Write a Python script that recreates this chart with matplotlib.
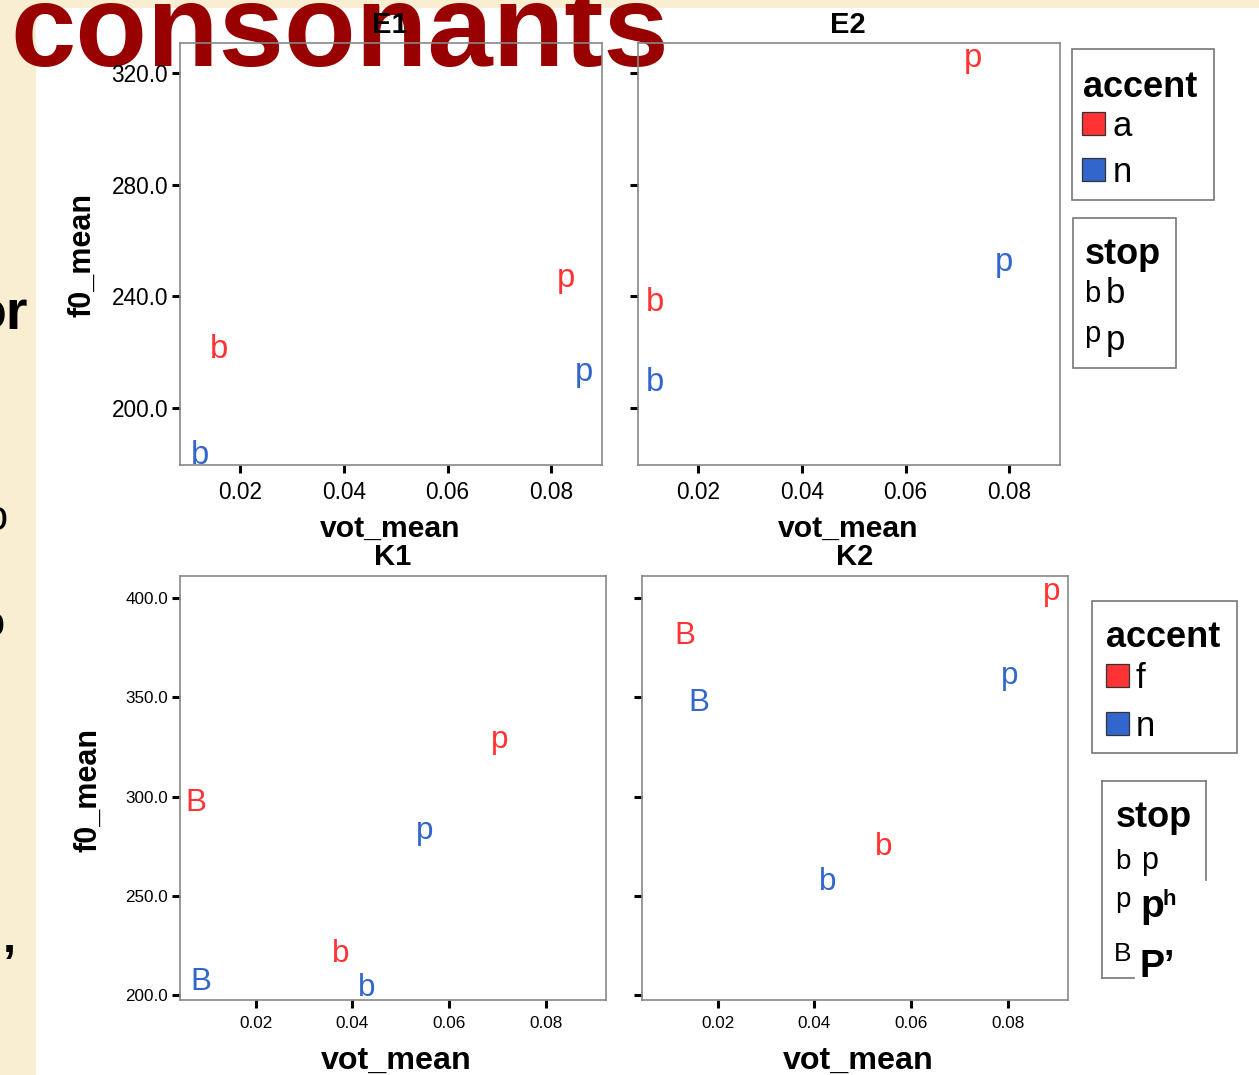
import matplotlib
matplotlib.use("Agg")
import matplotlib.pyplot as plt
from matplotlib.patches import Rectangle
from matplotlib.lines import Line2D

W, H, DPI = 1259, 1075, 100
plt.rcParams["font.family"] = ["Liberation Sans", "DejaVu Sans"]

RED = "#FF3333"
BLUE = "#3366CC"

# ---- data -------------------------------------------------------------
e1_stop = ["b", "b", "p", "p"]
e1_accent = ["a", "n", "a", "n"]
e1_vot = [0.0160, 0.0123, 0.0829, 0.0864]
e1_f0 = [221.0, 183.1, 246.5, 212.8]

e2_stop = ["b", "b", "p", "p"]
e2_accent = ["a", "n", "a", "n"]
e2_vot = [0.0117, 0.0116, 0.0731, 0.0790]
e2_f0 = [237.8, 209.2, 325.0, 252.2]

k1_stop = ["B", "B", "b", "b", "p", "p"]
k1_accent = ["f", "n", "f", "n", "f", "n"]
k1_vot = [0.0076, 0.0086, 0.0376, 0.0430, 0.0705, 0.0549]
k1_f0 = [296.5, 206.6, 220.7, 203.5, 328.3, 282.4]

k2_stop = ["B", "B", "b", "b", "p", "p"]
k2_accent = ["f", "n", "f", "n", "f", "n"]
k2_vot = [0.0132, 0.0161, 0.0543, 0.0427, 0.0891, 0.0804]
k2_f0 = [380.7, 347.0, 274.8, 257.1, 403.0, 360.6]

x_ticks = [0.02, 0.04, 0.06, 0.08]
e_y_ticks = [200, 240, 280, 320]
k_y_ticks = [200, 250, 300, 350, 400]

e_colors = {"a": RED, "n": BLUE}
k_colors = {"f": RED, "n": BLUE}

# ---- figure ---------------------------------------------------------------
fig = plt.figure(figsize=(W / DPI, H / DPI), dpi=DPI, facecolor="#F9EDD2")


def fx(x):
    return x / W


def fy(y):
    return 1 - y / H


# white content area of the slide
fig.patches.append(Rectangle((fx(36), 0), 1 - fx(36), fy(8),
                             transform=fig.transFigure, facecolor="white",
                             edgecolor="none", zorder=-3))

# slide heading, drawn beneath the plots
fig.text(fx(10), fy(66), "consonants", fontsize=84.5, fontweight="bold",
         color="#990000", ha="left", va="baseline", zorder=-1)

# clipped body text at the left edge of the slide
fig.text(fx(28), fy(330), "or", fontsize=40, color="black", fontweight="bold",
         ha="right", va="baseline", zorder=-1)
fig.text(fx(7), fy(530), "o", fontsize=30, color="black",
         ha="right", va="baseline", zorder=-1)
fig.text(fx(4), fy(636), "o", fontsize=30, color="black",
         ha="right", va="baseline", zorder=-1)
fig.text(fx(3), fy(952), ",", fontsize=34, color="black", fontweight="bold",
         ha="left", va="baseline", zorder=-1)


def panel(box, vot, f0, stop, accent, colors, xlim, ylim, yticks,
          tick_fs, text_fs, show_ylabels):
    l, t, r, b = box
    ax = fig.add_axes([fx(l), fy(b), (r - l) / W, (b - t) / H])
    ax.set_facecolor("none")
    ax.set_xlim(xlim)
    ax.set_ylim(ylim)
    for x, y, s, a in zip(vot, f0, stop, accent):
        ax.text(x, y, s, color=colors[a], fontsize=text_fs,
                ha="center", va="center")
    ax.set_xticks(x_ticks)
    ax.set_xticklabels([f"{v:.2f}" for v in x_ticks])
    ax.set_yticks(yticks)
    ax.set_yticklabels([f"{v:.1f}" for v in yticks])
    for sp in ax.spines.values():
        sp.set_color("#888888")
        sp.set_linewidth(1.2)
    ax.tick_params(direction="out", length=5.5, width=2.2, color="black",
                   labelsize=tick_fs, labelcolor="black")
    ax.tick_params(axis="x", pad=6)
    ax.tick_params(axis="y", pad=3)
    if not show_ylabels:
        ax.tick_params(axis="y", labelleft=False)
    return ax


e_xlim = (0.0084, 0.0898)
e_ylim = (179.6, 330.7)
k_xlim = (0.0043, 0.0925)
k_ylim = (197.5, 411.1)

panel((180, 43, 602, 465), e1_vot, e1_f0, e1_stop, e1_accent, e_colors,
      e_xlim, e_ylim, e_y_ticks, 16.3, 23.5, True)
panel((638, 43, 1060, 465), e2_vot, e2_f0, e2_stop, e2_accent, e_colors,
      e_xlim, e_ylim, e_y_ticks, 16.3, 23.5, False)
panel((180, 576, 606, 1000), k1_vot, k1_f0, k1_stop, k1_accent, k_colors,
      k_xlim, k_ylim, k_y_ticks, 12.3, 22.5, True)
panel((642, 576, 1068, 1000), k2_vot, k2_f0, k2_stop, k2_accent, k_colors,
      k_xlim, k_ylim, k_y_ticks, 12.3, 22.5, False)

# facet titles
for s, x, y in [("E1", 390, 25), ("E2", 848, 25), ("K1", 393, 557), ("K2", 855, 557)]:
    fig.text(fx(x), fy(y), s, fontsize=21, fontweight="bold",
             ha="center", va="center")

# axis titles
for x, y, fs in [(390, 529, 21.7), (848, 529, 21.7), (396, 1061, 23.2), (858, 1061, 23.2)]:
    fig.text(fx(x), fy(y), "vot_mean", fontsize=fs, fontweight="bold",
             ha="center", va="center")
for x, y in [(82, 255), (88, 790)]:
    fig.text(fx(x), fy(y), "f0_mean", fontsize=22, fontweight="bold",
             rotation=90, ha="center", va="center")


# ---- legends ----------------------------------------------------------------
def frame(l, t, r, b):
    fig.patches.append(Rectangle((fx(l), fy(b)), (r - l) / W, (b - t) / H,
                                 transform=fig.transFigure, fill=False,
                                 edgecolor="#777777", linewidth=1.2))


def swatch(l, t, size, color):
    fig.patches.append(Rectangle((fx(l), fy(t + size)), size / W, size / H,
                                 transform=fig.transFigure, facecolor=color,
                                 edgecolor="#333333", linewidth=0.9))


def hline(x0, x1, y):
    fig.lines.append(Line2D([fx(x0), fx(x1)], [fy(y), fy(y)],
                            transform=fig.transFigure, color="#777777", lw=1.2))


def vline(x, y0, y1):
    fig.lines.append(Line2D([fx(x), fx(x)], [fy(y0), fy(y1)],
                            transform=fig.transFigure, color="#777777", lw=1.2))


def txt(x, y, s, fs, bold=False):
    fig.text(fx(x), fy(y), s, fontsize=fs, fontweight="bold" if bold else "normal",
             ha="left", va="baseline")


# accent legend, E panels
frame(1072, 49, 1214, 200)
txt(1083, 97, "accent", 26, True)
e_levels = list(e_colors.keys())
for i, lev in enumerate(e_levels):
    top = 112 + i * 46
    swatch(1082, top, 23, e_colors[lev])
    txt(1113, top + 24, lev, 25)

# stop legend, E panels
frame(1073, 218, 1176, 368)
txt(1085, 264, "stop", 26, True)
txt(1084, 302, "b", 21)
txt(1106, 303, "b", 25)
txt(1084, 342, "p", 21)
txt(1106, 350, "p", 25)

# accent legend, K panels
frame(1092, 601, 1237, 753)
txt(1106, 647, "accent", 26, True)
k_levels = list(k_colors.keys())
for i, lev in enumerate(k_levels):
    top = 664 + i * 48
    swatch(1106, top, 23, k_colors[lev])
    txt(1136, top + 24, lev, 25)

# stop legend, K panels (frame partly hidden on the slide)
hline(1102, 1206, 781)
vline(1102, 781, 978)
vline(1206, 781, 880)
hline(1102, 1134, 978)
txt(1116, 827, "stop", 26, True)
txt(1115, 869, "b", 20)
txt(1141, 869, "p", 22)
txt(1115, 907, "p", 20)
txt(1140, 917, "p", 28, True)
txt(1162, 905, "h", 16, True)
txt(1114, 961, "B", 19)
txt(1140, 977, "P\u2019", 27, True)

fig.savefig("out.png", dpi=DPI, facecolor=fig.get_facecolor())
